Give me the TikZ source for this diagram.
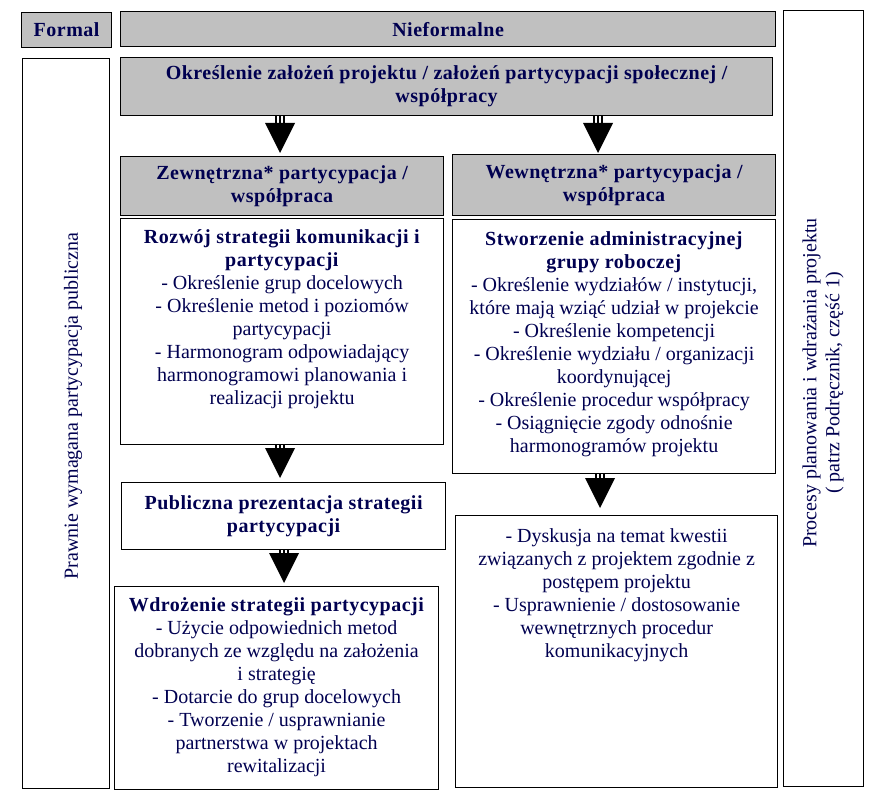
\documentclass[tikz,border=0pt]{standalone}
\usepackage{fontspec}
\setmainfont[BoldFeatures={LetterSpace=2.5}]{Liberation Serif}
\usetikzlibrary{positioning}

\definecolor{boxgray}{RGB}{192,192,192}
\definecolor{ink}{RGB}{0,0,80}
\newcommand{\bodysize}{\fontsize{20}{23}\selectfont}

\tikzset{
  box/.style={draw, line width=1.2pt, anchor=north west, inner sep=0pt},
  head/.style={box, fill=boxgray, text=ink, font=\bodysize\bfseries, align=center},
  txt/.style={text=ink, align=center, inner sep=0pt, anchor=north},
  stem/.style={line width=2pt},
}

% stem of three lines and a black head, from box #2 down to box #3 at x = #1
\newcommand{\flowarrow}[4]{%
  \coordinate (ax) at (#1,0);
  \coordinate (atop) at (#2.south -| ax);
  \coordinate (atip0) at (#3.north -| ax);
  \coordinate (atip) at ([yshift=#4pt]atip0);
  \foreach \dx in {-4,0,4}
    \draw[stem] ([xshift=\dx pt]atop) -- ([xshift=\dx pt, yshift=30pt]atip);
  \fill ([shift={(-15pt,30pt)}]atip) -- ([shift={(15pt,30pt)}]atip) -- (atip) -- cycle;
}

\begin{document}
\begin{tikzpicture}[x=1pt, y=-1pt, font=\bodysize]
  \useasboundingbox (0,0) rectangle (888,791);

  \node[head, minimum width=90, minimum height=35] (formal) at (21,12) {Formal};
  \node[head, minimum width=655, minimum height=35] (nief) at (120,11) {Nieformalne};
  \node[box, minimum width=80, minimum height=776] (proc) at (783,10) {};
  \node[box, minimum width=87, minimum height=730] (prawo) at (22,58) {};

  \node[head, minimum width=652, minimum height=58] (cel) at (120,57)
    {Określenie założeń projektu / założeń partycypacji społecznej /\\współpracy};
  \node[head, minimum width=323, minimum height=59] (zew) at (120,156)
    {Zewnętrzna* partycypacja /\\współpraca};
  \node[head, minimum width=323, minimum height=61] (wew) at (452,154)
    {Wewnętrzna* partycypacja /\\współpraca};

  \node[box, minimum width=323, minimum height=226] (roz) at (120,218) {};
  \node[box, minimum width=323, minimum height=254] (stw) at (452,219) {};
  \node[box, minimum width=324, minimum height=67, text=ink, font=\bodysize\bfseries, align=center] (pub) at (121,482)
    {Publiczna prezentacja strategii\\partycypacji};
  \node[box, minimum width=324, minimum height=203] (wdr) at (114,586) {};
  \node[box, minimum width=322, minimum height=272] (dys) at (455,515) {};

  \node[txt] (roztxt) at ([yshift=-11pt]roz.north)
    {\textbf{Rozwój strategii komunikacji i}\\\textbf{partycypacji}\\
     - Określenie grup docelowych\\- Określenie metod i poziomów\\partycypacji\\
     - Harmonogram odpowiadający\\harmonogramowi planowania i\\realizacji projektu};
  \node[txt] (stwtxt) at ([yshift=-12pt]stw.north)
    {\textbf{Stworzenie administracyjnej}\\\textbf{grupy roboczej}\\
     - Określenie wydziałów / instytucji,\\które mają wziąć udział w projekcie\\
     - Określenie kompetencji\\- Określenie wydziału / organizacji\\koordynującej\\
     - Określenie procedur współpracy\\- Osiągnięcie zgody odnośnie\\harmonogramów projektu};
  \node[txt] (wdrtxt) at ([yshift=-11pt]wdr.north)
    {\textbf{Wdrożenie strategii partycypacji}\\- Użycie odpowiednich metod\\
     dobranych ze względu na założenia\\i strategię\\- Dotarcie do grup docelowych\\
     - Tworzenie / usprawnianie\\partnerstwa w projektach\\rewitalizacji};
  \node[txt] (dystxt) at ([yshift=-13pt]dys.north)
    {- Dyskusja na temat kwestii\\związanych z projektem zgodnie z\\postępem projektu\\
     - Usprawnienie / dostosowanie\\wewnętrznych procedur\\komunikacyjnych};

  \node[txt, anchor=center, rotate=90] (prawotxt) at (73,406)
    {Prawnie wymagana partycypacja publiczna};
  \node[txt, anchor=center, rotate=90] (proctxt) at (823,383)
    {Procesy planowania i wdrażania projektu\\( patrz Podręcznik, część 1)};

  \flowarrow{280}{cel}{zew}{3}
  \flowarrow{598}{cel}{wew}{1}
  \flowarrow{280}{roz}{pub}{4}
  \flowarrow{284}{pub}{wdr}{3}
  \flowarrow{600}{stw}{dys}{7}
\end{tikzpicture}
\end{document}
